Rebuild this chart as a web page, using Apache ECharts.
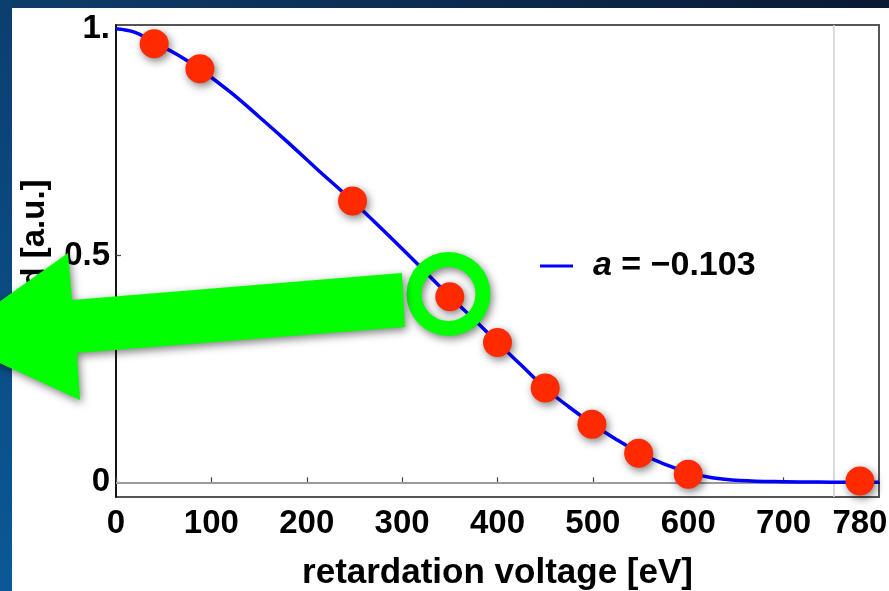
<!DOCTYPE html>
<html>
<head>
<meta charset="utf-8">
<script src="https://cdn.jsdelivr.net/npm/echarts@6/dist/echarts.min.js"></script>
<style>
  html, body { margin: 0; padding: 0; background: #fff; }
  #chart { width: 889px; height: 591px; }
</style>
</head>
<body>
<div id="chart"></div>
<script>
// Measured points: retardation voltage [eV] and normalised yield
const voltage = [40, 88, 248, 350, 400, 450, 499, 548, 600, 780];
const yieldValues = [0.967, 0.912, 0.620, 0.409, 0.308, 0.208, 0.128, 0.064, 0.018, 0.003];

// Fitted curve, sampled along the voltage axis
const fitVoltage = [0, 20, 40, 65, 90, 120, 150, 180, 210, 248, 300, 350, 375, 400, 425, 450, 475, 500, 525, 550, 575, 600, 625, 654, 700, 750, 800];
const fitYield = [1.000, 0.992, 0.970, 0.942, 0.908, 0.860, 0.806, 0.750, 0.692, 0.620, 0.515, 0.410, 0.360, 0.308, 0.258, 0.208, 0.166, 0.128, 0.094, 0.064, 0.040, 0.022, 0.010, 0.004, 0.0012, 0.0003, 0.0];
const fitName = 'a = \u22120.103';

// Axis ticks and labels
const xTickValues = [0, 100, 200, 300, 400, 500, 600, 700];
const xLabelValues = [0, 100, 200, 300, 400, 500, 600, 700, 780];
const yTickValues = [0, 0.5, 1];

// Reference guide lines
const cutoffVoltage = 753;
const baselineYield = 0;

const FONT = "'Liberation Sans', Arial, Helvetica, sans-serif";
const chart = echarts.init(document.getElementById('chart'));

const shadow = { shadowBlur: 8, shadowColor: 'rgba(0,0,0,0.5)', shadowOffsetX: 2, shadowOffsetY: 3 };

chart.setOption({
  backgroundColor: '#ffffff',
  animation: false,
  grid: {
    left: 116, right: 10, top: 25, bottom: 94,
    outerBoundsMode: 'none', containLabel: false,
    show: true, borderColor: '#555', borderWidth: 2, backgroundColor: 'transparent'
  },
  legend: {
    data: [fitName],
    left: 535, top: 244,
    icon: 'rect', itemWidth: 33, itemHeight: 3,
    formatter: () => '{i|a} = \u22120.103',
    textStyle: {
      fontFamily: FONT, fontSize: 34, fontWeight: 'bold', color: '#000',
      padding: [0, 0, 0, 15],
      rich: { i: { fontFamily: FONT, fontSize: 34, fontWeight: 'bold', fontStyle: 'italic', color: '#000' } }
    }
  },
  xAxis: {
    type: 'value', min: 0, max: 800,
    name: 'retardation voltage [eV]', nameLocation: 'middle', nameGap: 59,
    nameTextStyle: { fontFamily: FONT, fontSize: 35, fontWeight: 'bold', color: '#000' },
    axisLine: { show: true, lineStyle: { color: '#000', width: 2 } },
    axisTick: { inside: true, length: 5, customValues: xTickValues, lineStyle: { color: '#444', width: 1.2 } },
    axisLabel: {
      customValues: xLabelValues, margin: 10,
      fontFamily: FONT, fontSize: 33, fontWeight: 'bold', color: '#000'
    },
    splitLine: { show: false }
  },
  yAxis: {
    type: 'value', min: -0.0324, max: 1.0082,
    name: 'yield [a.u.]', nameLocation: 'middle', nameGap: 65,
    nameTextStyle: { fontFamily: FONT, fontSize: 33, fontWeight: 'bold', color: '#000' },
    axisLine: { show: true, lineStyle: { color: '#000', width: 1.5 } },
    axisTick: { inside: true, length: 5, customValues: yTickValues, lineStyle: { color: '#444', width: 1.2 } },
    axisLabel: {
      customValues: yTickValues, margin: 6,
      formatter: v => (v === 1 ? '1.' : String(v)),
      fontFamily: FONT, fontSize: 33, fontWeight: 'bold', color: '#000'
    },
    splitLine: { show: false }
  },
  series: [
    {
      name: fitName,
      type: 'line',
      data: fitVoltage.map((v, i) => [v, fitYield[i]]),
      smooth: 0.4,
      showSymbol: false,
      lineStyle: { color: '#0000ff', width: 3.5 },
      itemStyle: { color: '#0000ff' },
      z: 3,
      markLine: {
        silent: true, symbol: 'none', label: { show: false },
        lineStyle: { color: '#cfcfcf', width: 1.5, type: 'solid' },
        data: [{ xAxis: cutoffVoltage }, { yAxis: baselineYield }],
        z: 1
      }
    },
    {
      name: 'data',
      type: 'scatter',
      data: voltage.map((v, i) => [v, yieldValues[i]]),
      symbol: 'circle', symbolSize: 29,
      itemStyle: Object.assign({ color: '#ff2a00', opacity: 1 }, shadow),
      z: 5
    }
  ],
  graphic: [
    // slide border
    {
      type: 'rect', z: 100, silent: true,
      shape: { x: 0, y: 0, width: 889, height: 8 },
      style: { fill: new echarts.graphic.LinearGradient(0, 0, 1, 0, [
        { offset: 0, color: '#0d3d6c' }, { offset: 1, color: '#0a1934' }]) }
    },
    {
      type: 'rect', z: 100, silent: true,
      shape: { x: 0, y: 0, width: 12, height: 591 },
      style: { fill: new echarts.graphic.LinearGradient(0, 0, 0, 1, [
        { offset: 0, color: '#0c3e6f' }, { offset: 1, color: '#0a5996' }]) }
    },
    // highlight ring around the 350 eV point
    {
      type: 'ring', z: 110, silent: true,
      shape: { cx: 448.5, cy: 294, r: 42, r0: 27 },
      style: Object.assign({ fill: '#00ff00' }, shadow)
    },
    // pointer arrow
    {
      type: 'polygon', z: 110, silent: true,
      shape: { points: [[-53, 339], [68, 253], [72, 300], [402, 273], [405, 327], [77, 353], [80, 400]] },
      style: Object.assign({ fill: '#00ff00' }, shadow)
    }
  ]
});
</script>
</body>
</html>
